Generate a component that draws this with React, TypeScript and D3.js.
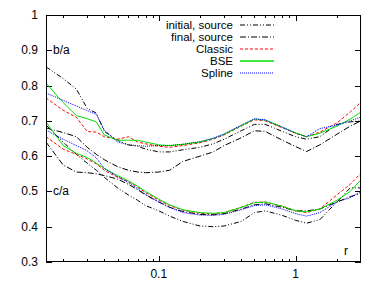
import React from "react";
import * as d3 from "d3";

const width = 382;
const height = 287;
const margin = { left: 46, right: 21, top: 15, bottom: 25 };

// radius samples (log axis)
const rValues = [0.015, 0.02, 0.025, 0.03, 0.035, 0.04, 0.05, 0.06, 0.07, 0.08, 0.1, 0.12, 0.15, 0.2, 0.25, 0.3, 0.4, 0.5, 0.6, 0.8, 1.0, 1.2, 1.5, 2.0, 2.5, 3.0];

// b/a
const baInitial = [0.853, 0.82, 0.79, 0.735, 0.722, 0.67, 0.645, 0.632, 0.628, 0.62, 0.612, 0.612, 0.618, 0.625, 0.635, 0.648, 0.672, 0.69, 0.69, 0.67, 0.655, 0.648, 0.655, 0.69, 0.697, 0.7];
const baFinal = [0.68, 0.667, 0.655, 0.625, 0.605, 0.59, 0.57, 0.56, 0.555, 0.553, 0.555, 0.56, 0.585, 0.6, 0.612, 0.63, 0.652, 0.672, 0.67, 0.645, 0.627, 0.613, 0.632, 0.662, 0.685, 0.7];
const baClassic = [0.765, 0.73, 0.71, 0.67, 0.668, 0.655, 0.648, 0.655, 0.64, 0.635, 0.628, 0.625, 0.63, 0.638, 0.648, 0.66, 0.685, 0.703, 0.7, 0.68, 0.665, 0.655, 0.668, 0.694, 0.725, 0.753];
const baBSE = [0.807, 0.752, 0.715, 0.706, 0.697, 0.66, 0.645, 0.645, 0.645, 0.64, 0.632, 0.63, 0.633, 0.64, 0.65, 0.662, 0.686, 0.705, 0.702, 0.682, 0.666, 0.655, 0.665, 0.685, 0.705, 0.725];
const baSpline = [0.779, 0.758, 0.742, 0.729, 0.718, 0.674, 0.64, 0.632, 0.63, 0.628, 0.63, 0.63, 0.634, 0.641, 0.651, 0.663, 0.688, 0.706, 0.703, 0.682, 0.665, 0.655, 0.678, 0.688, 0.7, 0.711];

// c/a
const caInitial = [0.688, 0.64, 0.605, 0.58, 0.56, 0.54, 0.51, 0.49, 0.475, 0.46, 0.445, 0.43, 0.415, 0.402, 0.4, 0.402, 0.415, 0.44, 0.445, 0.432, 0.418, 0.41, 0.42, 0.47, 0.51, 0.51];
const caFinal = [0.64, 0.575, 0.555, 0.553, 0.55, 0.545, 0.535, 0.52, 0.505, 0.49, 0.47, 0.455, 0.443, 0.435, 0.434, 0.437, 0.45, 0.462, 0.465, 0.455, 0.445, 0.445, 0.45, 0.47, 0.485, 0.495];
const caClassic = [0.655, 0.62, 0.605, 0.592, 0.578, 0.56, 0.54, 0.528, 0.512, 0.497, 0.475, 0.46, 0.447, 0.438, 0.436, 0.44, 0.455, 0.469, 0.47, 0.458, 0.445, 0.44, 0.45, 0.49, 0.52, 0.552];
const caBSE = [0.697, 0.63, 0.608, 0.596, 0.58, 0.565, 0.545, 0.53, 0.515, 0.5, 0.478, 0.462, 0.448, 0.44, 0.438, 0.44, 0.455, 0.468, 0.47, 0.458, 0.445, 0.442, 0.45, 0.475, 0.5, 0.533];
const caSpline = [0.674, 0.648, 0.63, 0.615, 0.595, 0.565, 0.542, 0.525, 0.508, 0.492, 0.47, 0.455, 0.44, 0.433, 0.432, 0.435, 0.448, 0.46, 0.462, 0.45, 0.437, 0.43, 0.44, 0.47, 0.482, 0.5];

const legendLabels = ["initial, source", "final, source", "Classic", "BSE", "Spline"];
const yTicks = [0.3, 0.4, 0.5, 0.6, 0.7, 0.8, 0.9, 1];
const xMajor = [0.1, 1];
const xMinor = [0.02, 0.03, 0.04, 0.05, 0.06, 0.07, 0.08, 0.09, 0.2, 0.3, 0.4, 0.5, 0.6, 0.7, 0.8, 0.9, 2];

const styles = [
  { stroke: "#000", dash: "5,2,1,2,1,2" },
  { stroke: "#000", dash: "6,2,1,2" },
  { stroke: "#ff0000", dash: "3,2" },
  { stroke: "#00e000", dash: "" },
  { stroke: "#0000ff", dash: "1,1" },
];

const App = () => {
  const x = d3.scaleLog().domain([0.015, 3]).range([margin.left, width - margin.right]);
  const y = d3.scaleLinear().domain([0.3, 1]).range([height - margin.bottom, margin.top]);
  const line = d3
    .line<number>()
    .x((d, i) => x(rValues[i]))
    .y((d) => y(d));

  const groups = [
    [baInitial, baFinal, baClassic, baBSE, baSpline],
    [caInitial, caFinal, caClassic, caBSE, caSpline],
  ];
  const x0 = margin.left;
  const x1 = width - margin.right;
  const y0 = margin.top;
  const y1 = height - margin.bottom;
  const font = "Liberation Sans, Arial, sans-serif";

  return (
    <svg
      width={width}
      height={height}
      style={{ position: "absolute", left: 0, top: 0, background: "#fff" }}
      fontFamily={font}
      fontSize={12}
    >
      <rect width={width} height={height} fill="#fff" />
      {yTicks.map((t) => (
        <g key={"y" + t}>
          <line x1={x0} x2={x0 + 6} y1={Math.round(y(t)) + 0.5} y2={Math.round(y(t)) + 0.5} stroke="#000" />
          <line x1={x1} x2={x1 - 6} y1={Math.round(y(t)) + 0.5} y2={Math.round(y(t)) + 0.5} stroke="#000" />
          <text x={38} y={y(t) + 4} textAnchor="end">
            {d3.format("")(t)}
          </text>
        </g>
      ))}
      {xMajor.map((t) => (
        <g key={"x" + t}>
          <line x1={Math.round(x(t)) + 0.5} x2={Math.round(x(t)) + 0.5} y1={y1} y2={y1 - 6} stroke="#000" />
          <line x1={Math.round(x(t)) + 0.5} x2={Math.round(x(t)) + 0.5} y1={y0} y2={y0 + 6} stroke="#000" />
          <text x={x(t)} y={278} textAnchor="middle">
            {String(t)}
          </text>
        </g>
      ))}
      {xMinor.map((t) => (
        <g key={"m" + t}>
          <line x1={Math.round(x(t)) + 0.5} x2={Math.round(x(t)) + 0.5} y1={y1} y2={y1 - 3} stroke="#000" />
          <line x1={Math.round(x(t)) + 0.5} x2={Math.round(x(t)) + 0.5} y1={y0} y2={y0 + 3} stroke="#000" />
        </g>
      ))}
      <text x={53} y={y(0.9) + 4}>b/a</text>
      <text x={53} y={y(0.5) + 4}>c/a</text>
      <text x={344} y={255}>r</text>
      {groups.map((series, gi) =>
        series.map((vals, si) => (
          <path
            key={gi + "-" + si}
            d={line(vals) || ""}
            fill="none"
            stroke={styles[si].stroke}
            strokeWidth={1}
            strokeDasharray={styles[si].dash}
          />
        ))
      )}
      {legendLabels.map((label, i) => {
        const ly = 25 + i * 12;
        return (
          <g key={label}>
            <text x={233} y={ly + 4} textAnchor="end" fontSize={11.5}>
              {label}
            </text>
            <line
              x1={240}
              x2={274}
              y1={ly}
              y2={ly}
              stroke={styles[i].stroke}
              strokeDasharray={styles[i].dash}
              strokeWidth={i === 3 ? 1.5 : 1}
            />
          </g>
        );
      })}
      <rect x={x0 + 0.5} y={y0 + 0.5} width={x1 - x0 - 1} height={y1 - y0 - 1} fill="none" stroke="#000" />
    </svg>
  );
};

export default App;
